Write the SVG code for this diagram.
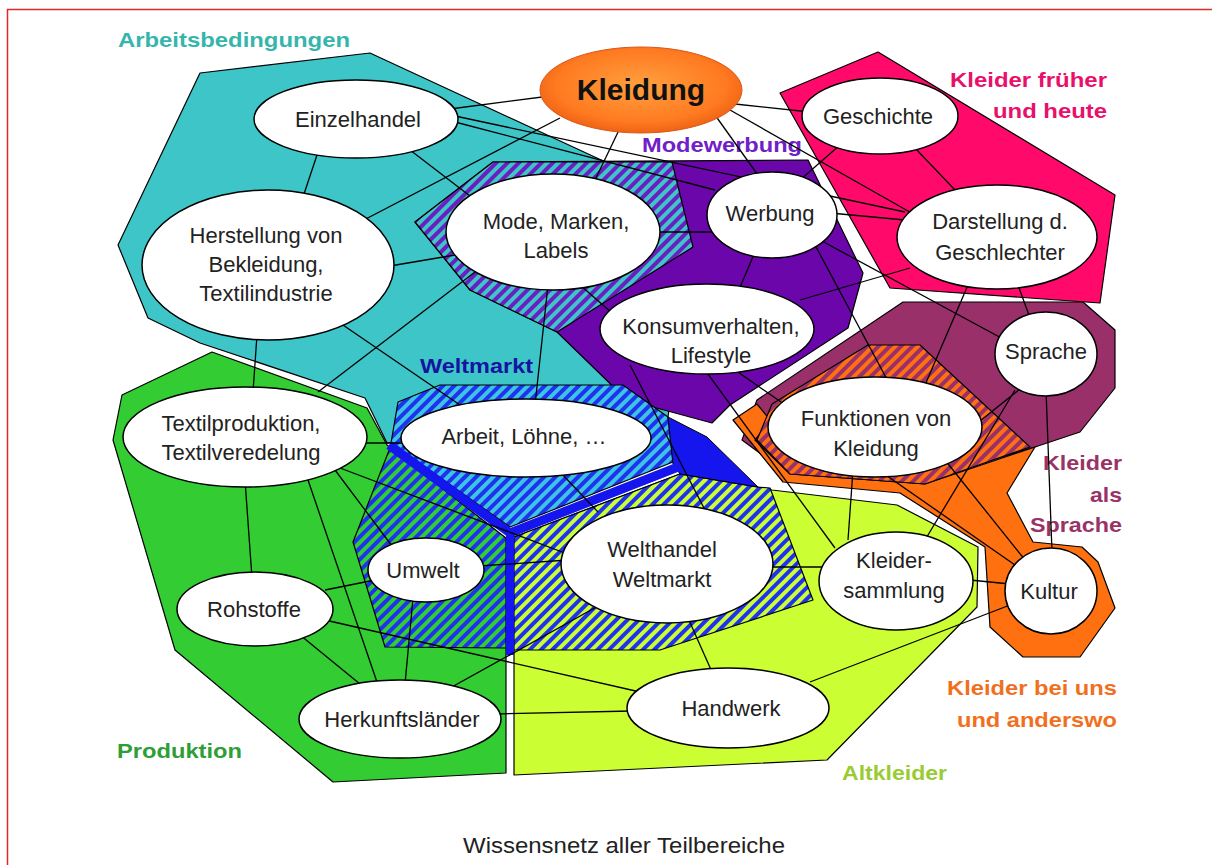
<svg xmlns="http://www.w3.org/2000/svg" width="1212" height="865" viewBox="0 0 1212 865">
  <defs>
    <style>
      .region { stroke: #000; stroke-width: 1.2; stroke-linejoin: round; }
      .node ellipse { fill: #fff; stroke: #000; stroke-width: 1.5; }
      .node text { font-family: "Liberation Sans", Arial, sans-serif; font-size: 22px; fill: #222; text-anchor: middle; }
      .edges line { stroke: #000; stroke-width: 1.3; }
      .area { font-family: "Liberation Sans", Arial, sans-serif; font-size: 21px; font-weight: bold; }
      .caption { font-family: "Liberation Sans", Arial, sans-serif; font-size: 22px; fill: #222; text-anchor: middle; }
    </style>
    <!-- diagonal two-colour hatches for overlapping topic areas -->
    <pattern id="hTealPurple" width="8" height="8" patternUnits="userSpaceOnUse" patternTransform="rotate(45)">
      <rect width="8" height="8" fill="#3EC5C8"/><rect width="4" height="8" fill="#6A1FC0"/>
    </pattern>
    <pattern id="hCyanBlue" width="8" height="8" patternUnits="userSpaceOnUse" patternTransform="rotate(45)">
      <rect width="8" height="8" fill="#3CC4E2"/><rect width="4" height="8" fill="#1E32F0"/>
    </pattern>
    <pattern id="hGreenBlue" width="8" height="8" patternUnits="userSpaceOnUse" patternTransform="rotate(45)">
      <rect width="8" height="8" fill="#33CC33"/><rect width="4" height="8" fill="#1E32F0"/>
    </pattern>
    <pattern id="hLimeBlue" width="8" height="8" patternUnits="userSpaceOnUse" patternTransform="rotate(45)">
      <rect width="8" height="8" fill="#CCFF33"/><rect width="4" height="8" fill="#1E32F0"/>
    </pattern>
    <pattern id="hOrangeMaroon" width="8" height="8" patternUnits="userSpaceOnUse" patternTransform="rotate(45)">
      <rect width="8" height="8" fill="#FF7010"/><rect width="4" height="8" fill="#99306A"/>
    </pattern>
    <radialGradient id="gKleidung" cx="0.5" cy="0.45" r="0.6">
      <stop offset="0" stop-color="#FFA040"/>
      <stop offset="0.7" stop-color="#FF7A20"/>
      <stop offset="1" stop-color="#E85A10"/>
    </radialGradient>
  </defs>

  <rect width="1212" height="865" fill="#fff"/>
  <path d="M7.5,865 V9.5 H1212" fill="none" stroke="#E02828" stroke-width="1.5"/>

  <!-- topic areas -->
  <g id="areas">
    <polygon id="area-arbeitsbedingungen" class="region" fill="#3EC5C8"
      points="200,73 370,53 612,165 690,250 668,417 387,443 365,398 200,343 148,318 118,245"/>
    <polygon id="area-modewerbung" class="region" fill="#6A06AA"
      points="493,162 808,160 863,273 848,328 730,405 712,423 627,400 557,332 470,290 415,222"/>
    <polygon id="area-mode-hatch" class="region" fill="url(#hTealPurple)"
      points="493,162 672,162 693,247 557,332 470,290 415,222"/>
    <polygon id="area-frueher-heute" class="region" fill="#FF0A6A"
      points="780,93 878,52 1115,195 1100,303 890,288"/>
    <polygon id="area-sprache" class="region" fill="#99306A"
      points="903,302 1083,302 1115,330 1115,388 1080,432 1035,447 925,480 785,472 742,440 757,400"/>
    <polygon id="area-uns-anderswo" class="region" fill="#FF7010"
      points="733,420 757,404 770,420 755,440 790,474 925,484 1035,447 1007,493 1033,542 1082,547 1098,562 1115,608 1080,657 1023,657 990,627 985,547 900,493 783,482"/>
    <polygon id="area-funktionen-hatch" class="region" fill="url(#hOrangeMaroon)"
      points="772,404 868,345 920,345 1030,447 925,484 790,474 757,440"/>
    <polygon id="area-produktion" class="region" fill="#33CC33"
      points="212,352 367,408 387,445 506,540 506,773 333,782 175,650 113,440 122,395"/>
    <polygon id="area-altkleider" class="region" fill="#CCFF33"
      points="514,537 680,474 757,487 772,490 897,505 978,547 977,607 827,760 514,775"/>
    <!-- Weltmarkt: hatched overlaps plus solid band -->
    <polygon id="area-arbeit-hatch" class="region" fill="url(#hCyanBlue)"
      points="440,385 623,385 668,417 673,462 510,527 391,443 398,402"/>
    <polygon id="area-umwelt-hatch" class="region" fill="url(#hGreenBlue)"
      points="390,448 353,542 385,647 506,648 506,538"/>
    <polygon id="area-welthandel-hatch" class="region" fill="url(#hLimeBlue)"
      points="514,537 680,474 757,487 770,488 813,600 660,650 514,650"/>
    <polygon id="area-weltmarkt-wedge" fill="#1515EE" stroke="#000" stroke-width="1"
      points="668,417 707,437 758,487 680,474 673,464"/>
    <polyline fill="none" stroke="#1515EE" stroke-width="9" stroke-linejoin="miter"
      points="389,445 510,533 678,467"/>
    <line x1="510" y1="531" x2="510" y2="655" stroke="#1515EE" stroke-width="8"/>
  </g>

  <!-- area titles -->
  <g id="area-titles" class="area">
    <text x="118" y="47" fill="#36B5AC" textLength="232" lengthAdjust="spacingAndGlyphs">Arbeitsbedingungen</text>
    <text x="642" y="152" fill="#7020C8" textLength="160" lengthAdjust="spacingAndGlyphs">Modewerbung</text>
    <text x="1107" y="87" fill="#E8106A" text-anchor="end" textLength="157" lengthAdjust="spacingAndGlyphs">Kleider früher</text>
    <text x="1107" y="118" fill="#E8106A" text-anchor="end" textLength="114" lengthAdjust="spacingAndGlyphs">und heute</text>
    <text x="1122" y="470" fill="#993366" text-anchor="end" textLength="79" lengthAdjust="spacingAndGlyphs">Kleider</text>
    <text x="1122" y="502" fill="#993366" text-anchor="end" textLength="32" lengthAdjust="spacingAndGlyphs">als</text>
    <text x="1122" y="532" fill="#993366" text-anchor="end" textLength="92" lengthAdjust="spacingAndGlyphs">Sprache</text>
    <text x="1117" y="695" fill="#F07020" text-anchor="end" textLength="170" lengthAdjust="spacingAndGlyphs">Kleider bei uns</text>
    <text x="1117" y="727" fill="#F07020" text-anchor="end" textLength="160" lengthAdjust="spacingAndGlyphs">und anderswo</text>
    <text x="842" y="780" fill="#99CC33" textLength="105" lengthAdjust="spacingAndGlyphs">Altkleider</text>
    <text x="117" y="758" fill="#2E9E36" textLength="125" lengthAdjust="spacingAndGlyphs">Produktion</text>
    <text x="420" y="373" fill="#1414A0" textLength="113" lengthAdjust="spacingAndGlyphs">Weltmarkt</text>
  </g>

  <!-- connections between topics -->
  <g id="connectors" class="edges">
    <line x1="450" y1="109" x2="550" y2="96"/>
    <line x1="560" y1="118" x2="360" y2="222"/>
    <line x1="620" y1="128" x2="595" y2="180"/>
    <line x1="715" y1="115" x2="760" y2="178"/>
    <line x1="735" y1="104" x2="810" y2="112"/>
    <line x1="730" y1="110" x2="915" y2="215"/>
    <line x1="318" y1="152" x2="302" y2="200"/>
    <line x1="410" y1="150" x2="470" y2="196"/>
    <line x1="455" y1="122" x2="715" y2="190"/>
    <line x1="455" y1="116" x2="905" y2="212"/>
    <line x1="915" y1="148" x2="955" y2="190"/>
    <line x1="840" y1="145" x2="800" y2="180"/>
    <line x1="830" y1="213" x2="905" y2="220"/>
    <line x1="655" y1="232" x2="712" y2="232"/>
    <line x1="755" y1="252" x2="738" y2="292"/>
    <line x1="815" y1="245" x2="890" y2="385"/>
    <line x1="820" y1="240" x2="1005" y2="340"/>
    <line x1="800" y1="300" x2="910" y2="268"/>
    <line x1="1018" y1="285" x2="1030" y2="318"/>
    <line x1="968" y1="285" x2="925" y2="385"/>
    <line x1="1025" y1="385" x2="975" y2="425"/>
    <line x1="1015" y1="390" x2="925" y2="540"/>
    <line x1="1046" y1="390" x2="1052" y2="552"/>
    <line x1="853" y1="470" x2="848" y2="540"/>
    <line x1="945" y1="460" x2="1025" y2="560"/>
    <line x1="705" y1="370" x2="835" y2="548"/>
    <line x1="735" y1="370" x2="1015" y2="565"/>
    <line x1="630" y1="365" x2="705" y2="510"/>
    <line x1="580" y1="285" x2="620" y2="320"/>
    <line x1="970" y1="580" x2="1010" y2="584"/>
    <line x1="765" y1="567" x2="825" y2="567"/>
    <line x1="810" y1="682" x2="1010" y2="605"/>
    <line x1="688" y1="618" x2="712" y2="672"/>
    <line x1="495" y1="714" x2="632" y2="711"/>
    <line x1="325" y1="620" x2="640" y2="692"/>
    <line x1="450" y1="688" x2="600" y2="605"/>
    <line x1="245" y1="480" x2="252" y2="578"/>
    <line x1="308" y1="480" x2="378" y2="685"/>
    <line x1="335" y1="470" x2="392" y2="546"/>
    <line x1="340" y1="468" x2="570" y2="555"/>
    <line x1="362" y1="443" x2="408" y2="443"/>
    <line x1="318" y1="392" x2="475" y2="272"/>
    <line x1="325" y1="590" x2="375" y2="580"/>
    <line x1="300" y1="635" x2="360" y2="684"/>
    <line x1="413" y1="598" x2="405" y2="684"/>
    <line x1="480" y1="566" x2="568" y2="560"/>
    <line x1="257" y1="335" x2="253" y2="392"/>
    <line x1="340" y1="323" x2="460" y2="405"/>
    <line x1="390" y1="266" x2="455" y2="255"/>
    <line x1="548" y1="285" x2="535" y2="405"/>
    <line x1="560" y1="472" x2="598" y2="512"/>
  </g>

  <!-- topics -->
  <g id="n-kleidung" class="node">
    <ellipse cx="641" cy="90" rx="101" ry="43" style="fill:url(#gKleidung);stroke:#D85A18;stroke-width:1"/>
    <text x="641" y="100" style="font-size:30px;font-weight:bold;fill:#111">Kleidung</text>
  </g>
  <g id="n-einzelhandel" class="node">
    <ellipse cx="356" cy="119" rx="102" ry="39"/>
    <text x="358" y="127">Einzelhandel</text>
  </g>
  <g id="n-herstellung" class="node">
    <ellipse cx="268" cy="265" rx="126" ry="75"/>
    <text x="266" y="243">Herstellung von</text>
    <text x="266" y="272">Bekleidung,</text>
    <text x="266" y="301">Textilindustrie</text>
  </g>
  <g id="n-mode" class="node">
    <ellipse cx="553" cy="232" rx="107" ry="58"/>
    <text x="556" y="229">Mode, Marken,</text>
    <text x="556" y="258">Labels</text>
  </g>
  <g id="n-werbung" class="node">
    <ellipse cx="772" cy="215" rx="65" ry="43"/>
    <text x="770" y="221">Werbung</text>
  </g>
  <g id="n-geschichte" class="node">
    <ellipse cx="880" cy="116" rx="78" ry="38"/>
    <text x="878" y="124">Geschichte</text>
  </g>
  <g id="n-darstellung" class="node">
    <ellipse cx="997" cy="237" rx="100" ry="52"/>
    <text x="1000" y="229">Darstellung d.</text>
    <text x="1000" y="260">Geschlechter</text>
  </g>
  <g id="n-konsum" class="node">
    <ellipse cx="707" cy="329" rx="107" ry="45"/>
    <text x="711" y="334">Konsumverhalten,</text>
    <text x="711" y="363">Lifestyle</text>
  </g>
  <g id="n-sprache" class="node">
    <ellipse cx="1046" cy="354" rx="51" ry="42"/>
    <text x="1046" y="359">Sprache</text>
  </g>
  <g id="n-funktionen" class="node">
    <ellipse cx="875" cy="427" rx="107" ry="50"/>
    <text x="876" y="426">Funktionen von</text>
    <text x="876" y="456">Kleidung</text>
  </g>
  <g id="n-kleidersammlung" class="node">
    <ellipse cx="896" cy="581" rx="77" ry="49"/>
    <text x="894" y="568">Kleider-</text>
    <text x="894" y="598">sammlung</text>
  </g>
  <g id="n-kultur" class="node">
    <ellipse cx="1051" cy="591" rx="46" ry="43"/>
    <text x="1049" y="599">Kultur</text>
  </g>
  <g id="n-arbeit" class="node">
    <ellipse cx="526" cy="438" rx="125" ry="39"/>
    <text x="524" y="444">Arbeit, Löhne, …</text>
  </g>
  <g id="n-welthandel" class="node">
    <ellipse cx="667" cy="564" rx="106" ry="59"/>
    <text x="662" y="557">Welthandel</text>
    <text x="662" y="587">Weltmarkt</text>
  </g>
  <g id="n-umwelt" class="node">
    <ellipse cx="426" cy="570" rx="58" ry="32"/>
    <text x="423" y="578">Umwelt</text>
  </g>
  <g id="n-textil" class="node">
    <ellipse cx="245" cy="437" rx="122" ry="50"/>
    <text x="241" y="431">Textilproduktion,</text>
    <text x="241" y="460">Textilveredelung</text>
  </g>
  <g id="n-rohstoffe" class="node">
    <ellipse cx="255" cy="609" rx="78" ry="37"/>
    <text x="254" y="617">Rohstoffe</text>
  </g>
  <g id="n-herkunft" class="node">
    <ellipse cx="400" cy="719" rx="101" ry="39"/>
    <text x="402" y="727">Herkunftsländer</text>
  </g>
  <g id="n-handwerk" class="node">
    <ellipse cx="728" cy="708" rx="101" ry="40"/>
    <text x="731" y="716">Handwerk</text>
  </g>

  <text class="caption" x="624" y="853" textLength="322" lengthAdjust="spacingAndGlyphs">Wissensnetz aller Teilbereiche</text>
</svg>
